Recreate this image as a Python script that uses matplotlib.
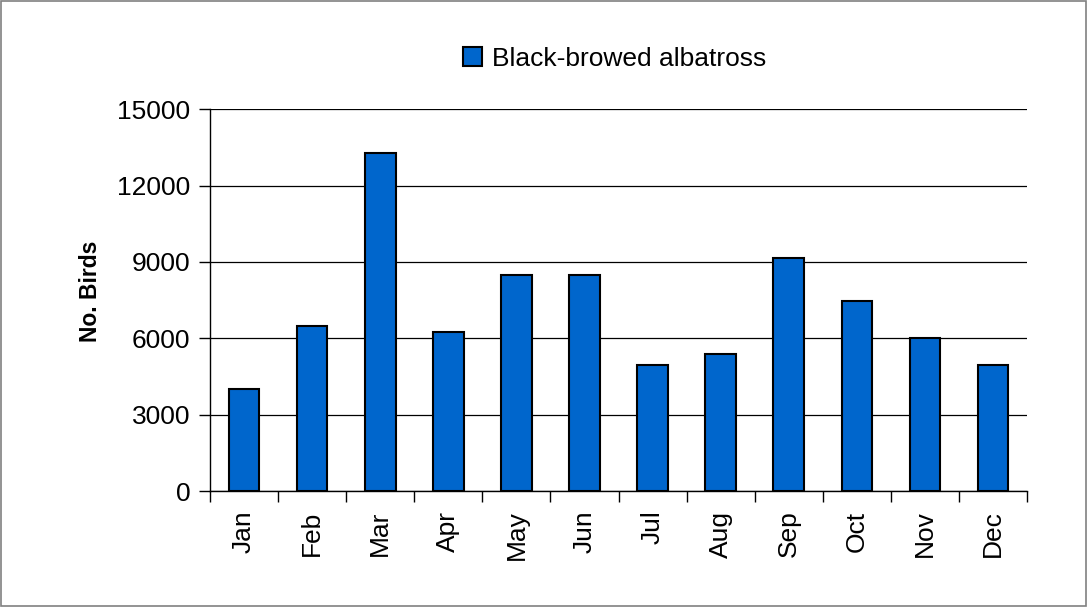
import numpy as np
import matplotlib.pyplot as plt
from matplotlib.patches import Rectangle

plt.rcParams['font.family'] = ['Liberation Sans', 'DejaVu Sans']

months = ['Jan', 'Feb', 'Mar', 'Apr', 'May', 'Jun',
          'Jul', 'Aug', 'Sep', 'Oct', 'Nov', 'Dec']
birds = [4000, 6500, 13300, 6250, 8500, 8500, 4950, 5400, 9150, 7450, 6000, 4950]
yticks = [0, 3000, 6000, 9000, 12000, 15000]

fig = plt.figure(figsize=(10.88, 6.07), dpi=100)
ax = fig.add_axes([0.193, 0.191, 0.751, 0.629])

x = np.arange(len(months))
ax.bar(x, birds, width=0.45, color='#0066CC', edgecolor='black',
       linewidth=1.5, label='Black-browed albatross', zorder=3)

ax.set_xlim(-0.5, len(months) - 0.5)
ax.set_ylim(0, 15000)
ax.set_yticks(yticks)
ax.set_yticklabels([str(v) for v in yticks], fontsize=19)
ax.yaxis.grid(True, color='black', linewidth=0.9, zorder=0)

ax.set_xticks(x)
ax.set_xticklabels(months, rotation=90, fontsize=19)
ax.tick_params(axis='x', which='major', length=0, pad=14)
ax.set_xticks(np.arange(len(months) + 1) - 0.5, minor=True)
ax.tick_params(axis='x', which='minor', length=8, width=1, color='black')
ax.tick_params(axis='y', length=8, width=1, pad=6)

for s in ['top', 'right']:
    ax.spines[s].set_visible(False)
for s in ['left', 'bottom']:
    ax.spines[s].set_color('black')
    ax.spines[s].set_linewidth(1)

ax.set_ylabel('No. Birds', fontsize=16.5, fontweight='bold')
ax.yaxis.set_label_coords(-0.132, 0.524)

fig.legend(loc='center', bbox_to_anchor=(0.565, 0.903), frameon=False,
           fontsize=19, handlelength=0.7, handleheight=0.7, handletextpad=0.4)

fig.patches.append(Rectangle((0.0005, 0.001), 0.998, 0.997, transform=fig.transFigure,
                             fill=False, edgecolor='#808080', linewidth=1.2))

fig.savefig('out.png', dpi=100)
